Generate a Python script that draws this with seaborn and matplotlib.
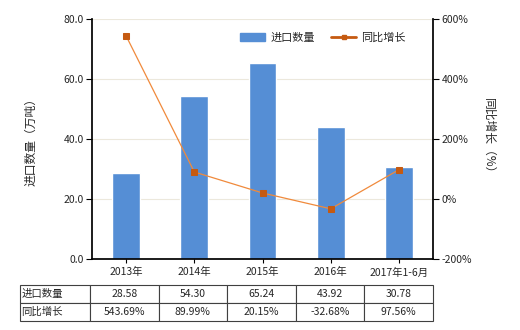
import matplotlib
matplotlib.use("Agg")
import matplotlib.pyplot as plt
import seaborn as sns
import numpy as np
import pandas as pd
from matplotlib.lines import Line2D
from matplotlib.patches import Patch

categories = ["2013年", "2014年", "2015年", "2016年", "2017年1-6月"]
import_qty = [28.58, 54.30, 65.24, 43.92, 30.78]
yoy_growth = [543.69, 89.99, 20.15, -32.68, 97.56]
qty_labels = ["28.58", "54.30", "65.24", "43.92", "30.78"]
growth_labels = ["543.69%", "89.99%", "20.15%", "-32.68%", "97.56%"]
left_ticks = [0, 20, 40, 60, 80]
right_ticks = [-200, 0, 200, 400, 600]

sns.set_theme(style="white")
plt.rcParams['font.family'] = ['Noto Sans CJK SC', 'DejaVu Sans']
plt.rcParams['axes.unicode_minus'] = False

bar_color = "#558ed5"
line_color = "#f08a3c"
marker_color = "#c55a11"
fs = 7.5

fig = plt.figure(figsize=(5.2, 3.3), dpi=100)
ax = fig.add_axes([92/520, 1-259/330, (433-92)/520, (259-19)/330])

df = pd.DataFrame({"cat": categories, "qty": import_qty, "yoy": yoy_growth})
sns.barplot(data=df, x="cat", y="qty", color=bar_color, width=0.41, ax=ax,
            saturation=1, zorder=2)
ax.set_xlim(-0.5, 4.5)
ax.set_ylim(0, 80)
ax.set_yticks(left_ticks)
ax.set_yticklabels([f"{v:.1f}" for v in left_ticks], fontsize=fs)
ax.set_xticks(range(len(categories)))
ax.set_xticklabels(categories, fontsize=fs)
ax.set_xlabel("")
ax.set_ylabel("进口数量（万吨）", fontsize=8.5, labelpad=19)
ax.yaxis.grid(True, color="#ece8dc", linewidth=0.8, zorder=0)
ax.set_axisbelow(True)
for s in ["top", "right"]:
    ax.spines[s].set_visible(False)
ax.spines["left"].set_color("black")
ax.spines["bottom"].set_color("black")
ax.tick_params(axis="y", which="both", left=True, length=4, width=0.8, color="black", pad=2)
ax.tick_params(axis="x", bottom=True, length=3, width=0.8, color="black", pad=3)

ax2 = ax.twinx()
sns.lineplot(x=np.arange(len(categories)), y=df["yoy"], ax=ax2, color=line_color,
             linewidth=0.9, marker="s", markersize=4, markerfacecolor=marker_color,
             markeredgecolor=marker_color, zorder=3)
ax2.set_ylim(-200, 600)
ax2.set_yticks(right_ticks)
ax2.set_yticklabels([f"{v}%" for v in right_ticks], fontsize=fs)
ax2.set_ylabel("同比增长（%）", fontsize=8.5, rotation=-90, labelpad=17)
for s in ["top", "left", "bottom"]:
    ax2.spines[s].set_visible(False)
ax2.spines["right"].set_color("black")
ax2.tick_params(axis="y", right=True, length=4, width=0.8, color="black", pad=2)
ax2.grid(False)

handles = [Patch(color=bar_color, label="进口数量"),
           Line2D([0], [0], color=marker_color, linewidth=2, marker="s", markersize=3,
                  label="同比增长")]
ax.legend(handles=handles, loc="upper right", bbox_to_anchor=(0.95, 0.985), ncol=2,
          frameon=False, fontsize=fs+0.5, handlelength=2.2, columnspacing=1.5,
          handletextpad=0.5)

# data table
tax = fig.add_axes([20/520, 1-321/330, (433-20)/520, 36/330])
tax.axis("off")
cell_text = [["进口数量"] + qty_labels, ["同比增长"] + growth_labels]
first_w = 70
other_w = (433-90)/5
widths = [first_w] + [other_w]*5
total = sum(widths)
tbl = tax.table(cellText=cell_text, colWidths=[w/total for w in widths],
                bbox=[0, 0, 1, 1], cellLoc="center")
tbl.auto_set_font_size(False)
tbl.set_fontsize(fs)
for (r, c), cell in tbl.get_celld().items():
    cell.set_edgecolor("#404040")
    cell.set_linewidth(0.8)
    if c == 0:
        cell.set_text_props(ha="left")
        cell.PAD = 0.02

fig.savefig("out.png", dpi=100)
